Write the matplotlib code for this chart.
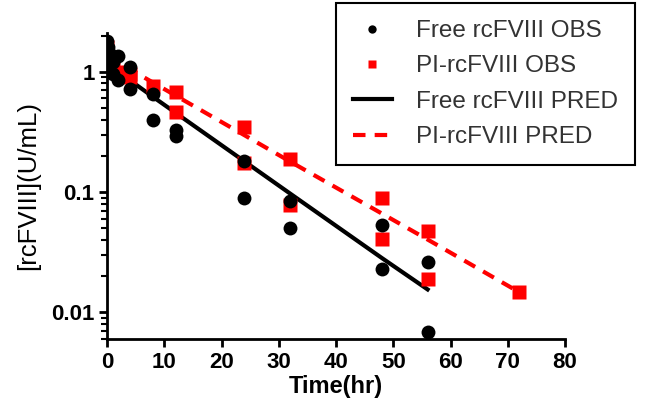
import matplotlib
matplotlib.use('Agg')
import matplotlib.pyplot as plt
from matplotlib.ticker import LogLocator, NullFormatter

plt.rcParams['font.family'] = ['Liberation Sans', 'DejaVu Sans']

# observed data (hr, U/mL)
free_t = [0, 0, 0.25, 0.25, 0.5, 0.5, 1, 1, 2, 2, 4, 4, 8, 8, 12, 12, 24, 24, 32, 32, 48, 48, 56, 56]
free_c = [1.8, 1.5, 1.6, 1.2, 1.4, 1.0, 1.2, 0.95, 1.35, 0.85, 1.1, 0.72, 0.65, 0.4, 0.33, 0.29,
          0.18, 0.09, 0.085, 0.05, 0.053, 0.023, 0.026, 0.0068]
pi_t = [0, 0, 0.5, 1, 2, 4, 4, 8, 12, 12, 24, 24, 32, 32, 48, 48, 56, 56, 72]
pi_c = [1.6, 1.3, 1.2, 1.1, 1.0, 0.95, 0.9, 0.76, 0.68, 0.46, 0.35, 0.175, 0.19, 0.078,
        0.09, 0.041, 0.047, 0.019, 0.0147]

# model predictions
free_pred_t = [0, 4, 8, 12, 24, 32, 48, 56]
free_pred_c = [1.15, 0.85, 0.62, 0.455, 0.18, 0.097, 0.0283, 0.0155]
pi_pred_t = [0, 4, 8, 12, 24, 32, 48, 56, 72]
pi_pred_c = [1.35, 1.05, 0.815, 0.633, 0.297, 0.179, 0.0663, 0.0403, 0.0147]

fig = plt.figure(figsize=(6.47, 4.12), dpi=100)
ax = fig.add_axes([107/647, 1-339/412, (565-107)/647, (339-33)/412])

ax.plot(free_pred_t, free_pred_c, color='black', lw=3, label='Free rcFVIII PRED', zorder=2)
ax.plot(pi_pred_t, pi_pred_c, color='#ff0000', lw=3, ls=(0, (3, 2.2)), label='PI-rcFVIII PRED', zorder=2)
ax.plot(pi_t, pi_c, 's', color='#ff0000', ms=10, mec='none', label='PI-rcFVIII OBS', zorder=3)
ax.plot(free_t, free_c, 'o', color='black', ms=10, mec='none', label='Free rcFVIII OBS', zorder=4)

ax.set_yscale('log')
ax.set_xlim(0, 80)
ax.set_ylim(0.006, 2.1)
ax.set_xticks(range(0, 81, 10))
ax.set_yticks([0.01, 0.1, 1])
ax.set_yticklabels(['0.01', '0.1', '1'])
ax.yaxis.set_minor_locator(LogLocator(base=10, subs=range(2, 10)))
ax.yaxis.set_minor_formatter(NullFormatter())

for s in ['top', 'right']:
    ax.spines[s].set_visible(False)
for s in ['left', 'bottom']:
    ax.spines[s].set_linewidth(2)
ax.tick_params(which='major', length=6, width=2, labelsize=16, pad=3)
ax.tick_params(which='minor', length=4, width=1.5)
for lab in ax.get_xticklabels() + ax.get_yticklabels():
    lab.set_fontweight('bold')

ax.set_xlabel('Time(hr)', fontsize=17, fontweight='bold', labelpad=2)
ax.set_ylabel('[rcFVIII](U/mL)', fontsize=18.5, labelpad=8)

h, l = ax.get_legend_handles_labels()
order = [3, 2, 0, 1]
leg = fig.legend([h[i] for i in order], [l[i] for i in order], loc='upper right',
                 bbox_to_anchor=(635/647, 1-3/412), borderaxespad=0, fontsize=17.5,
                 fancybox=False, edgecolor='black', framealpha=1, handlelength=1.6,
                 markerscale=0.6, borderpad=0.7, labelspacing=0.55, handletextpad=1.0)
leg.get_frame().set_linewidth(1.5)
for t in leg.get_texts():
    t.set_color('#333333')

fig.savefig('out.png', dpi=100)
